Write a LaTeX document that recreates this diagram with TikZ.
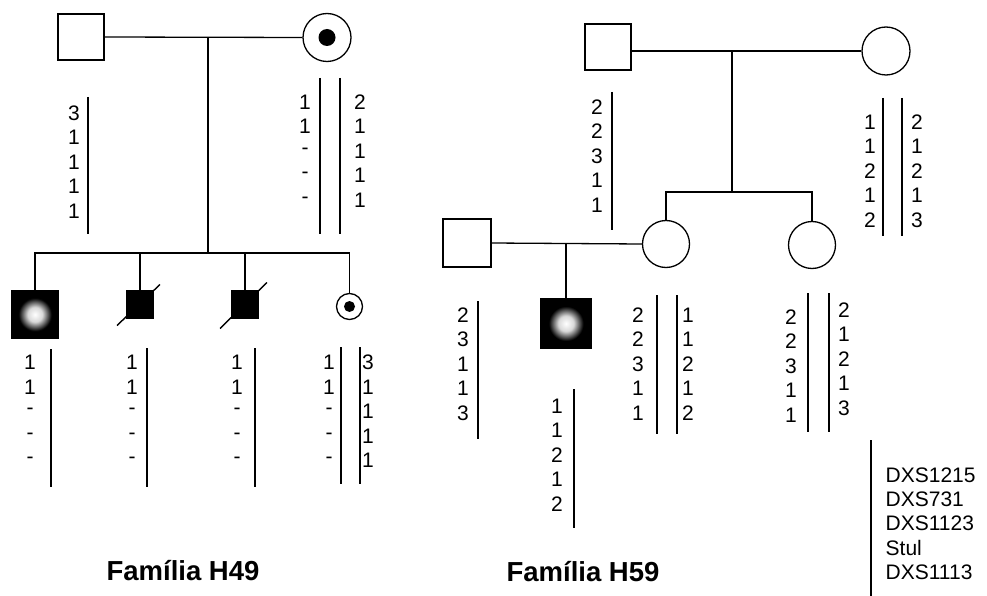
\documentclass[tikz,border=0pt]{standalone}
\usepackage{fontspec}
\setmainfont{Liberation Sans}
\usetikzlibrary{positioning, calc}

% fuzzy light spot of the affected males
\pgfdeclareradialshading{blob}{\pgfpoint{0bp}{0bp}}{%
  color(0bp)=(white); color(8bp)=(white!85!black);
  color(18bp)=(black); color(50bp)=(black)}

% one column of five alleles: name, x, first y, values
\newcommand{\alcol}[4]{%
  \foreach \v [count=\i] in {#4}
    \node[allele] (#1\i) at (#2, {#3+(\i-1)*24.5}) {\v};}

\begin{document}
\begin{tikzpicture}[
    x=1pt, y=-1pt,
    line width=1.3pt,
    male/.style={draw, rectangle, minimum size=#1, inner sep=0pt},
    male/.default=46,
    female/.style={draw, circle, minimum size=#1, inner sep=0pt},
    female/.default=48,
    dot/.style={circle, fill=black, inner sep=0pt, minimum size=#1},
    allele/.style={font=\fontsize{21}{21}\selectfont, inner sep=0pt},
    marker/.style={font=\fontsize{21}{21}\selectfont, inner sep=0pt, anchor=west},
    title/.style={font=\bfseries\fontsize{27.5}{27.5}\selectfont, inner sep=0pt},
    bar/.style={line width=1.6pt},
    slash/.style={line width=1.4pt}
]
\useasboundingbox (0,0) rectangle (987,596);

% ---- Familia H49 ----
\node[male] (f49) at (81,37) {};
\node[female] (m49) at (327,37.5) {};
\node[dot=17] (m49d) at (m49) {};

\node[male=47, fill=black] (c1) at (35,314.5) {};
\shade[shading=blob] (c1) circle[radius=23];
\node[male=27, fill=black] (c2) at (140,304.5) {};
\node[male=27, fill=black] (c3) at (245,304.5) {};
\node[female=26] (c4) at (349.5,306.5) {};
\node[dot=11] (c4d) at (c4) {};
\draw[slash] ($(c2)+(-23,21)$) -- ($(c2)+(20,-20)$);
\draw[slash] ($(c3)+(-25,24)$) -- ($(c3)+(22,-22)$);

\draw (f49.east) -- (m49.west);
\coordinate (u49) at (208,38);
\coordinate (s49) at (208,253);
\draw (u49) -- (s49);
\draw (c1.north) |- (s49) -| (c4.north);
\draw (c2.north) -- (c2.north |- s49);
\draw (c3.north) -- (c3.north |- s49);

\alcol{f49a}{74}{113}{3,1,1,1,1}
\draw[bar] (88,97) -- (88,234);
\alcol{m49a}{305}{102}{1,1,-,-,-}
\alcol{m49b}{360}{102}{2,1,1,1,1}
\draw[bar] (320,78) -- (320,234);
\draw[bar] (340,78) -- (340,234);

\alcol{c1a}{30}{362.5}{1,1,-,-,-}
\draw[bar] (51,349) -- (51,487);
\alcol{c2a}{132}{362.5}{1,1,-,-,-}
\draw[bar] (147,348) -- (147,487);
\alcol{c3a}{237}{362.5}{1,1,-,-,-}
\draw[bar] (255,348) -- (255,487);
\alcol{c4a}{329}{362.5}{1,1,-,-,-}
\alcol{c4b}{368}{362.5}{3,1,1,1,1}
\draw[bar] (341,347) -- (341,484);
\draw[bar] (360,347) -- (360,484);

\node[title] (t49) at (183,571) {Família H49};

% ---- Familia H59 ----
\node[male] (gf) at (608,47) {};
\node[female] (gm) at (886,51) {};
\node[male=48] (hb) at (467,243) {};
\node[female=47] (d1) at (666,244) {};
\node[female=47] (d2) at (812,245) {};
\node[male=50, fill=black] (son) at (566,323.5) {};
\shade[shading=blob] (son) circle[radius=24];

\draw (gf.east |- gm.west) -- (gm.west);
\coordinate (u59) at (732,51);
\coordinate (s59) at (732,192);
\draw (u59) -- (s59);
\draw (d1.north) |- (s59) -| (d2.north);
\draw (hb.east) -- (d1.west);
\draw (son.north |- hb.east) -- (son.north);

\alcol{gfa}{597}{107}{2,2,3,1,1}
\draw[bar] (612,92) -- (612,230);
\alcol{gma}{870}{122}{1,1,2,1,2}
\alcol{gmb}{917}{122}{2,1,2,1,3}
\draw[bar] (883,98) -- (883,236);
\draw[bar] (902,98) -- (902,236);

\alcol{hba}{463}{315}{2,3,1,1,3}
\draw[bar] (478,301) -- (478,439);
\alcol{sona}{557}{406}{1,1,2,1,2}
\draw[bar] (574,389) -- (574,528);
\alcol{d1a}{638}{315}{2,2,3,1,1}
\alcol{d1b}{688}{315}{1,1,2,1,2}
\draw[bar] (657,295) -- (657,434);
\draw[bar] (677,295) -- (677,434);
\alcol{d2a}{791}{317}{2,2,3,1,1}
\alcol{d2b}{844}{310}{2,1,2,1,3}
\draw[bar] (808,293) -- (808,432);
\draw[bar] (829,293) -- (829,432);

\node[title] (t59) at (583,572) {Família H59};

% marker legend
\draw[bar] (871,440) -- (871,596);
\foreach \m [count=\i] in {DXS1215,DXS731,DXS1123,Stul,DXS1113}
  \node[marker] (mk\i) at (885, {475+(\i-1)*24.3}) {\m};
\end{tikzpicture}
\end{document}
